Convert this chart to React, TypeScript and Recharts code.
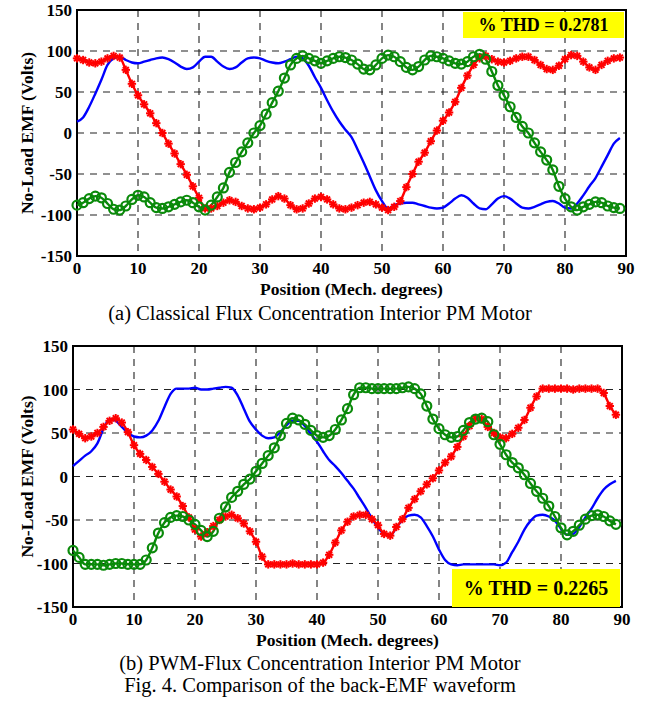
import { LineChart, Line, XAxis, YAxis, CartesianGrid, ReferenceArea } from "recharts";

// mechanical position in degrees, one sample per degree
const degrees = Array.from({ length: 90 }, (_, i) => i);
const xTicks = [0, 10, 20, 30, 40, 50, 60, 70, 80, 90];
const yTicks = [-150, -100, -50, 0, 50, 100, 150];

// (a) classical flux concentration motor
const classicBlue = [
  14, 19, 32, 48, 65, 83, 91, 93, 89, 86, 85, 87, 89, 91, 92, 90, 86, 81, 78, 80,
  87, 93, 93, 87, 81, 78, 80, 86, 91, 92, 91, 88, 86, 85, 87, 90, 93, 91, 82, 68,
  55, 40, 26, 14, 4, -5, -20, -36, -53, -70, -83, -92, -88, -86, -85, -85, -87, -89, -91, -92,
  -91, -86, -80, -76, -79, -86, -92, -93, -87, -80, -77, -80, -86, -91, -92, -90, -87, -84, -83, -86,
  -91, -92, -86, -76, -65, -55, -41, -27, -13, -6,
];
const classicRed = [
  91, 89, 86, 85, 87, 91, 94, 92, 77, 60, 46, 35, 24, 12, 0, -13, -25, -38, -51, -65,
  -79, -92, -92, -89, -85, -82, -84, -89, -92, -93, -91, -87, -81, -77, -80, -88, -93, -92, -86, -80,
  -78, -81, -87, -92, -93, -91, -88, -85, -84, -87, -91, -94, -90, -83, -66, -50, -35, -24, -10, 3,
  15, 25, 38, 55, 70, 83, 91, 94, 90, 87, 86, 88, 91, 93, 93, 89, 83, 78, 77, 82,
  90, 95, 94, 87, 80, 77, 83, 88, 91, 92,
];
const classicGreen = [
  -88, -85, -80, -77, -79, -86, -93, -94, -89, -81, -76, -78, -85, -91, -92, -90, -87, -84, -82, -85,
  -90, -94, -88, -78, -67, -48, -36, -23, -12, 0, 9, 23, 37, 51, 67, 83, 91, 94, 91, 88,
  85, 88, 91, 93, 92, 89, 84, 78, 77, 83, 91, 95, 93, 87, 80, 77, 81, 89, 94, 93,
  91, 88, 85, 84, 87, 93, 96, 90, 75, 58, 46, 32, 19, 8, 0, -12, -23, -33, -45, -65,
  -80, -90, -94, -90, -87, -84, -85, -89, -91, -92,
];

// (b) PWM flux concentration motor
const pwmBlue = [
  12, 18, 24, 29, 38, 55, 66, 64, 57, 50, 46, 45, 47, 53, 64, 80, 95, 101, 101, 101,
  102, 100, 100, 101, 102, 103, 102, 93, 78, 63, 54, 47, 44, 45, 51, 59, 64, 64, 58, 49,
  40, 29, 19, 12, 4, -5, -14, -25, -36, -48, -59, -66, -68, -59, -50, -45, -44, -47, -57, -69,
  -84, -96, -101, -102, -101, -101, -101, -101, -101, -101, -102, -99, -87, -75, -61, -51, -45, -44, -46, -51,
  -60, -67, -66, -58, -47, -37, -25, -15, -9, -5,
];
const pwmRed = [
  54, 49, 44, 46, 50, 57, 64, 67, 62, 51, 36, 26, 19, 11, 3, -6, -15, -23, -34, -47,
  -61, -69, -64, -57, -50, -46, -44, -48, -54, -63, -75, -92, -101, -101, -101, -101, -100, -101, -101, -101,
  -101, -99, -90, -76, -62, -52, -46, -44, -44, -49, -56, -66, -68, -58, -49, -36, -26, -17, -9, -2,
  7, 16, 23, 34, 46, 58, 67, 66, 57, 50, 45, 44, 49, 56, 65, 79, 92, 101, 101, 101,
  101, 101, 100, 101, 101, 101, 101, 96, 81, 71,
];
const pwmGreen = [
  -85, -93, -101, -101, -101, -102, -101, -100, -100, -101, -101, -101, -96, -82, -65, -53, -47, -45, -46, -50,
  -55, -62, -69, -63, -48, -35, -24, -17, -9, -3, 6, 15, 24, 33, 47, 61, 67, 65, 60, 53,
  47, 45, 47, 54, 65, 78, 94, 102, 102, 101, 101, 101, 101, 101, 102, 103, 101, 95, 81, 66,
  55, 48, 45, 46, 53, 62, 66, 67, 63, 48, 37, 25, 16, 10, 2, -8, -17, -25, -34, -46,
  -59, -67, -63, -56, -49, -45, -44, -46, -51, -55,
];

const classicData = degrees.map((d, i) => ({
  deg: d,
  blue: classicBlue[i],
  red: classicRed[i],
  green: classicGreen[i],
}));
const pwmData = degrees.map((d, i) => ({
  deg: d,
  blue: pwmBlue[i],
  red: pwmRed[i],
  green: pwmGreen[i],
}));

const serif = "'Liberation Serif', 'Times New Roman', serif";
const tickStyle = { fill: "#000", fontSize: 17, fontWeight: "bold", fontFamily: serif };
const BLUE = "#0000ff";
const RED = "#ff0000";
const GREEN = "#0a8a0a";

function StarDot(props: any) {
  const { cx, cy, index } = props;
  if (cx == null || cy == null) return <g key={`s${index}`} />;
  const r = 4.2;
  return (
    <g key={`s${index}`} stroke={RED} strokeWidth={2}>
      <line x1={cx - r} y1={cy} x2={cx + r} y2={cy} />
      <line x1={cx} y1={cy - r} x2={cx} y2={cy + r} />
      <line x1={cx - r * 0.7} y1={cy - r * 0.7} x2={cx + r * 0.7} y2={cy + r * 0.7} />
      <line x1={cx - r * 0.7} y1={cy + r * 0.7} x2={cx + r * 0.7} y2={cy - r * 0.7} />
    </g>
  );
}

function CircleDot(props: any) {
  const { cx, cy, index } = props;
  if (cx == null || cy == null) return <g key={`c${index}`} />;
  return <circle key={`c${index}`} cx={cx} cy={cy} r={4.5} fill="none" stroke={GREEN} strokeWidth={2.2} />;
}

function EmfChart({
  data,
  height,
  top,
  left,
  right,
}: {
  data: any[];
  height: number;
  top: number;
  left: number;
  right: number;
}) {
  return (
    <LineChart width={650} height={height} data={data} margin={{ top, right, left: 0, bottom: 0 }}>
      <CartesianGrid stroke="#222" strokeDasharray="7 6" strokeWidth={1.1} />
      <XAxis
        dataKey="deg"
        type="number"
        domain={[0, 90]}
        ticks={xTicks}
        interval={0}
        height={44}
        axisLine={false}
        tickLine={false}
        tickSize={4}
        tickMargin={2}
        tick={tickStyle}
        label={{
          value: "Position (Mech. degrees)",
          position: "insideBottom",
          offset: 5,
          style: { fill: "#000", fontSize: 17.5, fontWeight: "bold", fontFamily: serif },
        }}
      />
      <YAxis
        type="number"
        domain={[-150, 150]}
        ticks={yTicks}
        interval={0}
        width={left}
        axisLine={false}
        tickLine={false}
        tickSize={3}
        tickMargin={2}
        tick={tickStyle}
        label={{
          value: "No-Load EMF (Volts)",
          angle: -90,
          position: "insideLeft",
          offset: 27,
          style: { textAnchor: "middle", fill: "#000", fontSize: 17.5, fontWeight: "bold", fontFamily: serif },
        }}
      />
      <ReferenceArea x1={0} x2={90} y1={-150} y2={150} fill="none" stroke="#000" strokeWidth={2} ifOverflow="visible" />
      <Line type="monotone" dataKey="blue" stroke={BLUE} strokeWidth={2.4} dot={false} isAnimationActive={false} />
      <Line type="monotone" dataKey="red" stroke={RED} strokeWidth={2.4} dot={StarDot} isAnimationActive={false} />
      <Line type="monotone" dataKey="green" stroke={GREEN} strokeWidth={2.4} dot={CircleDot} isAnimationActive={false} />
    </LineChart>
  );
}

const thdBox = {
  position: "absolute" as const,
  background: "#ffff00",
  fontFamily: serif,
  fontWeight: "bold" as const,
  display: "flex",
  alignItems: "center",
  justifyContent: "center",
  color: "#000",
};
const caption = {
  position: "absolute" as const,
  left: 0,
  width: 640,
  textAlign: "center" as const,
  fontFamily: serif,
  fontSize: 20.5,
  color: "#000",
  lineHeight: "22px",
};

export default function App() {
  return (
    <div style={{ position: "relative", width: 650, height: 704, background: "#fff" }}>
      <style>{"body{margin:0}"}</style>
      <div style={{ position: "absolute", left: 0, top: 0 }}>
        <EmfChart data={classicData} height={300} top={10} left={77} right={24} />
      </div>
      <div style={{ ...thdBox, left: 463, top: 12, width: 161, height: 26, fontSize: 18 }}>% THD = 0.2781</div>
      <div style={{ ...caption, top: 302 }}>(a) Classical Flux Concentration Interior PM Motor</div>

      <div style={{ position: "absolute", left: 0, top: 330 }}>
        <EmfChart data={pwmData} height={321} top={16} left={73} right={28} />
      </div>
      <div style={{ ...thdBox, left: 452, top: 569, width: 168, height: 38, fontSize: 20 }}>% THD = 0.2265</div>
      <div style={{ ...caption, top: 652 }}>(b) PWM-Flux Concentration Interior PM Motor</div>
      <div style={{ ...caption, top: 674 }}>Fig. 4. Comparison of the back-EMF waveform</div>
    </div>
  );
}
